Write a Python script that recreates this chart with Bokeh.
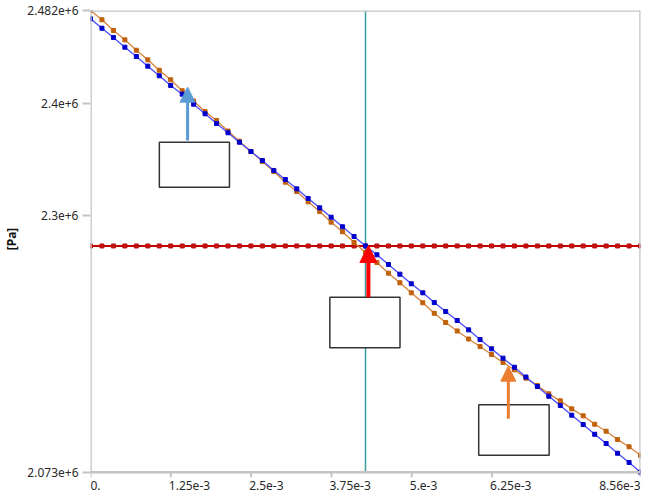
import math
from bokeh.plotting import figure
from bokeh.models import Range1d, FixedTicker, BoxAnnotation, Arrow, NormalHead, Label
from bokeh.embed import file_html
from bokeh.resources import INLINE

# ---- data ----
x_vals = [0.0, 1.783e-4, 3.567e-4, 5.35e-4, 7.133e-4, 8.917e-4, 1.07e-3, 1.248e-3,
          1.427e-3, 1.605e-3, 1.783e-3, 1.962e-3, 2.14e-3, 2.318e-3, 2.497e-3, 2.675e-3,
          2.853e-3, 3.032e-3, 3.21e-3, 3.388e-3, 3.567e-3, 3.745e-3, 3.923e-3, 4.102e-3,
          4.28e-3, 4.458e-3, 4.637e-3, 4.815e-3, 4.993e-3, 5.172e-3, 5.35e-3, 5.528e-3,
          5.707e-3, 5.885e-3, 6.063e-3, 6.242e-3, 6.42e-3, 6.598e-3, 6.777e-3, 6.955e-3,
          7.133e-3, 7.312e-3, 7.49e-3, 7.668e-3, 7.847e-3, 8.025e-3, 8.203e-3, 8.382e-3,
          8.56e-3]

pressure_orange = [2.4820e6, 2.4738e6, 2.4643e6, 2.4560e6, 2.4468e6, 2.4383e6, 2.4291e6, 2.4206e6,
                   2.4109e6, 2.4018e6, 2.3925e6, 2.3846e6, 2.3752e6, 2.3662e6, 2.3571e6, 2.3482e6,
                   2.3394e6, 2.3299e6, 2.3217e6, 2.3125e6, 2.3039e6, 2.2945e6, 2.2860e6, 2.2765e6,
                   2.2676e6, 2.2588e6, 2.2493e6, 2.2408e6, 2.2319e6, 2.2231e6, 2.2138e6, 2.2056e6,
                   2.1981e6, 2.1910e6, 2.1843e6, 2.1773e6, 2.1702e6, 2.1637e6, 2.1563e6, 2.1498e6,
                   2.1424e6, 2.1362e6, 2.1291e6, 2.1229e6, 2.1155e6, 2.1093e6, 2.1019e6, 2.0955e6,
                   2.0880e6]

pressure_blue = [2.4746e6, 2.4663e6, 2.4581e6, 2.4495e6, 2.4412e6, 2.4327e6, 2.4242e6, 2.4156e6,
                 2.4079e6, 2.3990e6, 2.3905e6, 2.3819e6, 2.3737e6, 2.3653e6, 2.3571e6, 2.3491e6,
                 2.3403e6, 2.3323e6, 2.3240e6, 2.3155e6, 2.3072e6, 2.2989e6, 2.2904e6, 2.2818e6,
                 2.2734e6, 2.2656e6, 2.2570e6, 2.2484e6, 2.2399e6, 2.2319e6, 2.2233e6, 2.2153e6,
                 2.2074e6, 2.1991e6, 2.1905e6, 2.1823e6, 2.1740e6, 2.1660e6, 2.1573e6, 2.1489e6,
                 2.1403e6, 2.1321e6, 2.1235e6, 2.1152e6, 2.1066e6, 2.0984e6, 2.0898e6, 2.0816e6,
                 2.0730e6]

pressure_red = [2.2734e6, 2.2734e6, 2.2734e6, 2.2734e6, 2.2734e6, 2.2734e6, 2.2734e6, 2.2734e6,
                2.2734e6, 2.2734e6, 2.2734e6, 2.2734e6, 2.2734e6, 2.2734e6, 2.2734e6, 2.2734e6,
                2.2734e6, 2.2734e6, 2.2734e6, 2.2734e6, 2.2734e6, 2.2734e6, 2.2734e6, 2.2734e6,
                2.2734e6, 2.2734e6, 2.2734e6, 2.2734e6, 2.2734e6, 2.2734e6, 2.2734e6, 2.2734e6,
                2.2734e6, 2.2734e6, 2.2734e6, 2.2734e6, 2.2734e6, 2.2734e6, 2.2734e6, 2.2734e6,
                2.2734e6, 2.2734e6, 2.2734e6, 2.2734e6, 2.2734e6, 2.2734e6, 2.2734e6, 2.2734e6,
                2.2734e6]

probe_x = 4.28e-3

x_ticks = [0.0, 1.25e-3, 2.5e-3, 3.75e-3, 5e-3, 6.25e-3, 8.56e-3]
x_tick_labels = ["0.", "1.25e-3", "2.5e-3", "3.75e-3", "5.e-3", "6.25e-3", "8.56e-3"]
y_ticks = [2.073e6, 2.3e6, 2.4e6, 2.482e6]
y_tick_labels = ["2.073e+6", "2.3e+6", "2.4e+6", "2.482e+6"]

FONT = "Noto Sans"
AXIS_GRAY = "#c4c4c4"
LABEL_ROOM = 20640  # extra room below the x axis (in Pa) that holds the x tick labels

x0, x1 = x_ticks[0], x_ticks[-1]
y0, y1 = y_ticks[0], y_ticks[-1]

p = figure(width=641, height=496,
           x_range=Range1d(x0, x1),
           y_range=Range1d(y0 - LABEL_ROOM, y1),
           output_backend="svg", toolbar_location=None,
           min_border_left=83, min_border_right=1, min_border_top=10, min_border_bottom=1)
p.background_fill_color = "white"
p.border_fill_color = "white"
p.outline_line_color = None
p.xgrid.visible = False
p.ygrid.visible = False
p.xaxis.visible = False

# y axis (ticks + labels; its line is drawn below so it stops at the x axis)
p.yaxis.ticker = FixedTicker(ticks=y_ticks)
p.yaxis.major_label_overrides = {t: l for t, l in zip(y_ticks, y_tick_labels)}
p.yaxis.major_label_text_font = FONT
p.yaxis.major_label_text_font_size = "12px"
p.yaxis.major_label_text_color = "#2a2a2a"
p.yaxis.major_label_standoff = 4
p.yaxis.axis_line_color = None
p.yaxis.major_tick_line_color = AXIS_GRAY
p.yaxis.major_tick_line_width = 2
p.yaxis.major_tick_out = 8
p.yaxis.major_tick_in = 0
p.yaxis.minor_tick_line_color = None
p.yaxis.axis_label = "\u00a0" * 9 + "[Pa]"
p.yaxis.axis_label_text_font = FONT
p.yaxis.axis_label_text_font_style = "bold"
p.yaxis.axis_label_text_font_size = "12px"
p.yaxis.axis_label_text_color = "#111111"
p.yaxis.axis_label_standoff = 4

# probe line (under the series)
p.segment(x0=[probe_x], y0=[y0], x1=[probe_x], y1=[y1], line_color="#3a9a9a", line_width=1.5)

# series
p.line(x_vals, pressure_red, line_color="#c00000", line_width=2)
p.scatter(x_vals, pressure_red, marker="square", size=4, fill_color="#c01010", line_color="#c01010")
p.line(x_vals, pressure_orange, line_color="#d8843c", line_width=1.3)
p.scatter(x_vals, pressure_orange, marker="square", size=4, fill_color="#c0600a", line_color="#c0600a")
p.line(x_vals, pressure_blue, line_color="#4a4aff", line_width=1.3)
p.scatter(x_vals, pressure_blue, marker="square", size=4, fill_color="#0000cc", line_color="#0000cc")

# frame: axis lines, top and right border, x ticks
p.segment(x0=[x0, x0, x0, x1], y0=[y0, y0, y1, y0], x1=[x1, x0, x1, x1], y1=[y0, y1, y1, y1],
          line_color=AXIS_GRAY, line_width=2.5)
p.ray(x=x_ticks, y=[y0] * len(x_ticks), length=5, length_units="screen", angle=-math.pi / 2,
      line_color=AXIS_GRAY, line_width=2)

# x tick labels, left-aligned to their ticks (the last one right-aligned)
for i, (t, lab) in enumerate(zip(x_ticks, x_tick_labels)):
    last = i == len(x_ticks) - 1
    first = i == 0
    p.add_layout(Label(x=t, y=y0, text=lab, x_offset=(0 if (last or first) else -2), y_offset=-9,
                       text_align=("right" if last else "left"), text_baseline="top",
                       text_font=FONT, text_font_size="12px", text_color="#2a2a2a"))

# callout boxes
for l, r, t, b in [(1.0715e-3, 2.163e-3, 2.3653e6, 2.3255e6),
                   (3.725e-3, 4.817e-3, 2.2280e6, 2.1832e6),
                   (6.042e-3, 7.138e-3, 2.1327e6, 2.0880e6)]:
    p.add_layout(BoxAnnotation(left=l, right=r, top=t, bottom=b, fill_color="white", fill_alpha=1.0,
                               line_color="#333333", line_width=1.5, line_alpha=1.0))

# arrows
for xa, ya, yb, col, w, hs in [(1.511e-3, 2.3668e6, 2.4141e6, "#5b9bd5", 3, 15),
                              (4.325e-3, 2.2280e6, 2.2738e6, "#ff0000", 4, 17),
                              (6.503e-3, 2.1203e6, 2.1669e6, "#ed7d31", 3, 15)]:
    p.add_layout(Arrow(x_start=xa, y_start=ya, x_end=xa, y_end=yb, line_color=col, line_width=w,
                       end=NormalHead(size=hs, fill_color=col, line_color=col, line_width=1)))

open("out.html", "w").write(file_html(p, INLINE))
